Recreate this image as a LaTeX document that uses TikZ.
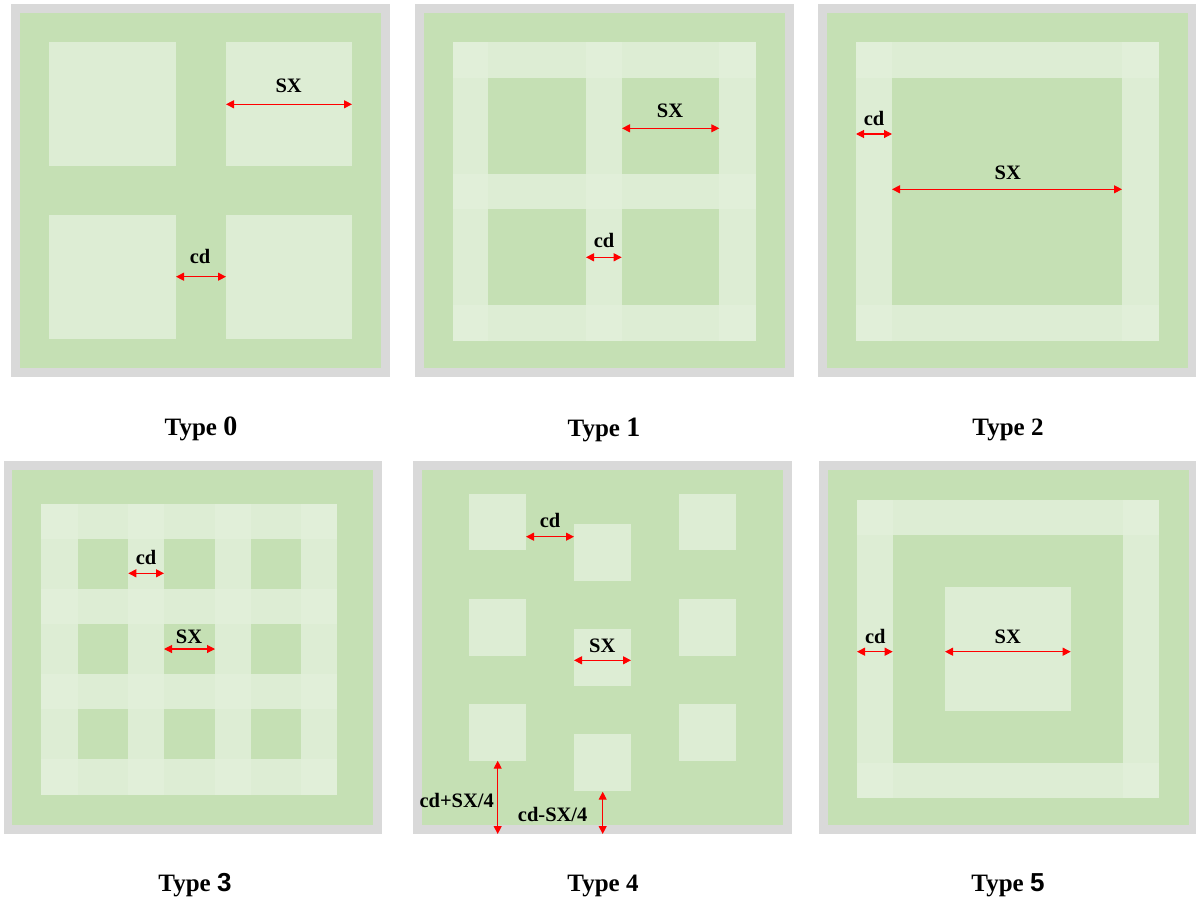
\documentclass[tikz,border=0pt]{standalone}
\usepackage{fontspec}
\setmainfont{Liberation Serif}
\newfontfamily\digsans{Liberation Sans}
\usetikzlibrary{arrows.meta}
\definecolor{frame}{HTML}{D9D9D9}
\definecolor{base}{HTML}{C5E0B4}
\definecolor{lite}{HTML}{DDEDD4}
\definecolor{xlite}{HTML}{E1EFD9}
\definecolor{dimred}{HTML}{FF0000}
\tikzset{
  gray/.style={fill=frame},
  grn/.style={fill=base},
  lt/.style={fill=lite},
  xl/.style={fill=xlite},
  dim/.style={draw=dimred, line width=1.1pt, {Triangle[length=8pt,width=8pt,fill=dimred]}-{Triangle[length=8pt,width=8pt,fill=dimred]}},
  lab/.style={font=\fontsize{20.5}{24}\selectfont\bfseries, inner sep=0pt},
  typ/.style={font=\fontsize{25}{28}\selectfont\bfseries, anchor=base, inner sep=0pt}
}
\begin{document}
\begin{tikzpicture}[x=1pt,y=-1pt]
\useasboundingbox (0,0) rectangle (1196,902);
\fill[white] (0,0) rectangle (1196,902);
% ---------- Panel 0 ----------
\fill[gray] (11,4) rectangle (390,377);
\fill[grn] (20.3,12.7) rectangle (381,367.7);
\fill[lt] (49.3,42) rectangle (175.7,166);
\fill[lt] (226,42) rectangle (352,166);
\fill[lt] (49.3,215) rectangle (175.7,339);
\fill[lt] (226,215) rectangle (352,339);
\coordinate (a0l) at (226,104.3); \coordinate (a0r) at (352,104.3);
\draw[dim] (a0l) -- (a0r);
\node[lab] (t0sx) at (288.7,86) {SX};
\coordinate (b0l) at (176,276.7); \coordinate (b0r) at (226,276.7);
\draw[dim] (b0l) -- (b0r);
\node[lab] (t0cd) at (200,256.7) {cd};
\node[typ] (ty0) at (201,435) {Type {\fontsize{28}{30}\selectfont 0}};
% ---------- Panel 1 ----------
\fill[gray] (415,4) rectangle (793.7,377);
\fill[grn] (424,12.7) rectangle (785,367.7);
\fill[lt] (452.7,42) rectangle (755.7,340.7);
\foreach \xa/\xb in {488.3/586, 621.7/719}
  \foreach \ya/\yb in {78/174, 209/305}
    \fill[grn] (\xa,\ya) rectangle (\xb,\yb);
\foreach \xa/\xb in {452.7/488.3, 586/621.7, 719/755.7}
  \foreach \ya/\yb in {42/78, 174/209, 305/340.7}
    \fill[xl] (\xa,\ya) rectangle (\xb,\yb);
\coordinate (a1l) at (622,128.3); \coordinate (a1r) at (719.3,128.3);
\draw[dim] (a1l) -- (a1r);
\node[lab] (t1sx) at (670,111) {SX};
\coordinate (b1l) at (586,257.3); \coordinate (b1r) at (621.7,257.3);
\draw[dim] (b1l) -- (b1r);
\node[lab] (t1cd) at (604,240) {cd};
\node[typ] (ty1) at (604,436) {Type {\fontsize{28}{30}\selectfont 1}};
% ---------- Panel 2 ----------
\fill[gray] (818,4) rectangle (1196,377);
\fill[grn] (827.3,12.7) rectangle (1187.7,367.7);
\fill[lt] (855.7,42) rectangle (1158.7,340.7);
\fill[grn] (892,78) rectangle (1122,305);
\foreach \xa/\xb in {855.7/892, 1122/1158.7}
  \foreach \ya/\yb in {42/78, 305/340.7}
    \fill[xl] (\xa,\ya) rectangle (\xb,\yb);
\coordinate (b2l) at (856,134); \coordinate (b2r) at (892,134);
\draw[dim] (b2l) -- (b2r);
\node[lab] (t2cd) at (874,118) {cd};
\coordinate (a2l) at (892,189.3); \coordinate (a2r) at (1122,189.3);
\draw[dim] (a2l) -- (a2r);
\node[lab] (t2sx) at (1007.7,173.3) {SX};
\node[typ] (ty2) at (1008,435) {Type 2};
% ---------- Panel 3 ----------
\fill[gray] (3.7,461) rectangle (382,834);
\fill[grn] (12.3,470) rectangle (373.3,825);
\fill[lt] (41.3,504) rectangle (337,794.7);
\foreach \xa/\xb in {77.7/128.3, 164/215, 250.7/301.3}
  \foreach \ya/\yb in {539.3/588.7, 624/674, 709.3/759}
    \fill[grn] (\xa,\ya) rectangle (\xb,\yb);
\foreach \xa/\xb in {41.3/77.7, 128.3/164, 215/250.7, 301.3/337}
  \foreach \ya/\yb in {504/539.3, 588.7/624, 674/709.3, 759/794.7}
    \fill[xl] (\xa,\ya) rectangle (\xb,\yb);
\coordinate (b3l) at (128.3,573.3); \coordinate (b3r) at (164,573.3);
\draw[dim] (b3l) -- (b3r);
\node[lab] (t3cd) at (146,557.7) {cd};
\coordinate (a3l) at (164,649); \coordinate (a3r) at (215,649);
\draw[dim] (a3l) -- (a3r);
\node[lab] (t3sx) at (189,636.7) {SX};
\node[typ] (ty3) at (195,891) {Type {\digsans\fontsize{26}{30}\selectfont 3}};
% ---------- Panel 4 ----------
\fill[gray] (413.3,461) rectangle (791.7,834);
\fill[grn] (422.3,470) rectangle (782.7,825);
\foreach \xa/\xb in {469/526, 678.7/736}
  \foreach \ya/\yb in {494/550.3, 599/655.7, 704/760.7}
    \fill[lt] (\xa,\ya) rectangle (\xb,\yb);
\foreach \ya/\yb in {524/580.7, 629/685.7, 734/790.7}
  \fill[lt] (574,\ya) rectangle (631,\yb);
\coordinate (b4l) at (526,536.7); \coordinate (b4r) at (574,536.7);
\draw[dim] (b4l) -- (b4r);
\node[lab] (t4cd) at (550,520.7) {cd};
\coordinate (a4l) at (574,660.3); \coordinate (a4r) at (631,660.3);
\draw[dim] (a4l) -- (a4r);
\node[lab] (t4sx) at (602.3,645.7) {SX};
\coordinate (v1t) at (497.7,760.7); \coordinate (v1b) at (497.7,834);
\draw[dim] (v1t) -- (v1b);
\node[lab] (t4p) at (456.7,800) {cd+SX/4};
\coordinate (v2t) at (602.7,791.7); \coordinate (v2b) at (602.7,834);
\draw[dim] (v2t) -- (v2b);
\node[lab] (t4m) at (552.7,814.3) {cd-SX/4};
\node[typ] (ty4) at (603,891) {Type 4};
% ---------- Panel 5 ----------
\fill[gray] (819,461) rectangle (1196,834);
\fill[grn] (828.3,470) rectangle (1189,825);
\fill[lt] (856.7,500) rectangle (1159.3,798.3);
\fill[grn] (892.7,535.3) rectangle (1123.3,762.7);
\foreach \xa/\xb in {856.7/892.7, 1123.3/1159.3}
  \foreach \ya/\yb in {500/535.3, 762.7/798.3}
    \fill[xl] (\xa,\ya) rectangle (\xb,\yb);
\fill[lt] (945,587.3) rectangle (1070.7,711);
\coordinate (b5l) at (857,651.7); \coordinate (b5r) at (892.7,651.7);
\draw[dim] (b5l) -- (b5r);
\node[lab] (t5cd) at (875.3,636) {cd};
\coordinate (a5l) at (945,651.7); \coordinate (a5r) at (1070.7,651.7);
\draw[dim] (a5l) -- (a5r);
\node[lab] (t5sx) at (1007.7,636.7) {SX};
\node[typ] (ty5) at (1008,891.3) {Type {\digsans\fontsize{26}{30}\selectfont 5}};
\end{tikzpicture}
\end{document}
